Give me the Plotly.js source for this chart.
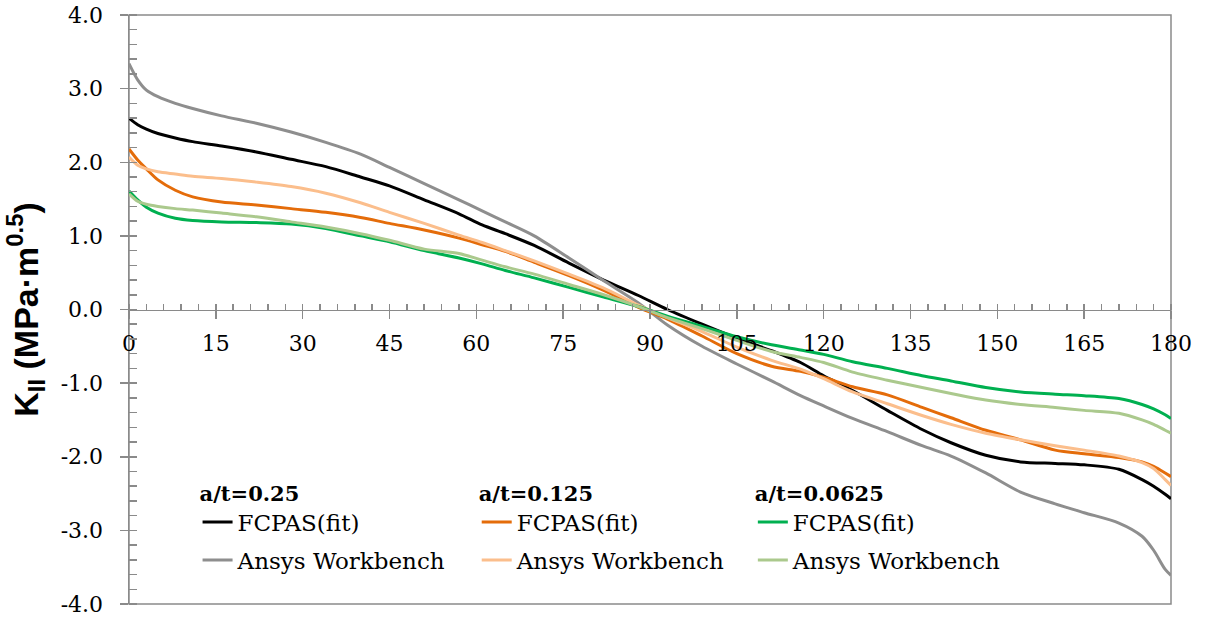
<!DOCTYPE html>
<html>
<head>
<meta charset="utf-8">
<script src="https://cdn.plot.ly/plotly-3.0.1.min.js"></script>
<style>html,body{margin:0;padding:0;background:#fff;}#chart{width:1205px;height:624px;}</style>
</head>
<body>
<div id="chart"></div>
<script>
// crack-front angle (degrees)
const angle = [0, 1.5, 3, 5, 8, 11, 16, 22, 28, 34, 40, 45, 51, 57, 61, 65, 70, 76, 82, 88, 93, 99, 105, 111, 116, 120, 125, 131, 137, 142, 148, 154, 160, 165, 171, 175, 177, 179, 180];

// a/t = 0.25
const fcpas025 = [2.60, 2.51, 2.45, 2.39, 2.33, 2.28, 2.22, 2.14, 2.04, 1.94, 1.80, 1.68, 1.49, 1.30, 1.15, 1.03, 0.87, 0.63, 0.40, 0.19, 0.00, -0.20, -0.39, -0.56, -0.72, -0.90, -1.10, -1.37, -1.63, -1.81, -1.98, -2.07, -2.09, -2.11, -2.17, -2.31, -2.40, -2.51, -2.57];
const ansys025 = [3.34, 3.12, 2.98, 2.89, 2.80, 2.73, 2.63, 2.53, 2.41, 2.27, 2.11, 1.93, 1.71, 1.49, 1.34, 1.19, 1.00, 0.70, 0.39, 0.09, -0.21, -0.50, -0.74, -0.97, -1.17, -1.31, -1.48, -1.66, -1.85, -1.99, -2.22, -2.48, -2.64, -2.76, -2.90, -3.08, -3.27, -3.53, -3.61];

// a/t = 0.125
const fcpas0125 = [2.18, 2.03, 1.91, 1.76, 1.62, 1.53, 1.46, 1.42, 1.37, 1.32, 1.25, 1.17, 1.08, 0.97, 0.88, 0.79, 0.64, 0.46, 0.26, 0.03, -0.13, -0.36, -0.60, -0.77, -0.84, -0.92, -1.05, -1.16, -1.33, -1.47, -1.64, -1.77, -1.91, -1.96, -2.01, -2.07, -2.13, -2.22, -2.27];
const ansys0125 = [2.07, 1.96, 1.91, 1.87, 1.84, 1.81, 1.78, 1.73, 1.67, 1.58, 1.45, 1.32, 1.17, 1.01, 0.91, 0.80, 0.66, 0.48, 0.29, 0.06, -0.11, -0.30, -0.51, -0.69, -0.81, -0.94, -1.12, -1.28, -1.44, -1.56, -1.68, -1.77, -1.85, -1.91, -1.99, -2.08, -2.16, -2.31, -2.39];

// a/t = 0.0625
const fcpas00625 = [1.61, 1.49, 1.39, 1.31, 1.24, 1.21, 1.19, 1.18, 1.16, 1.10, 1.00, 0.92, 0.80, 0.70, 0.62, 0.53, 0.43, 0.30, 0.17, 0.04, -0.09, -0.23, -0.37, -0.48, -0.55, -0.61, -0.71, -0.80, -0.90, -0.97, -1.06, -1.12, -1.15, -1.17, -1.21, -1.29, -1.35, -1.43, -1.48];
const ansys00625 = [1.57, 1.47, 1.43, 1.40, 1.37, 1.35, 1.31, 1.26, 1.19, 1.12, 1.03, 0.94, 0.82, 0.76, 0.67, 0.58, 0.48, 0.34, 0.20, 0.04, -0.11, -0.26, -0.42, -0.57, -0.65, -0.72, -0.85, -0.96, -1.06, -1.14, -1.23, -1.29, -1.33, -1.37, -1.41, -1.50, -1.56, -1.64, -1.68];

const groupTitles = ['a/t=0.25', 'a/t=0.125', 'a/t=0.0625'];
const seriesNames = ['FCPAS(fit)', 'Ansys Workbench'];

const xTickVals = [0, 15, 30, 45, 60, 75, 90, 105, 120, 135, 150, 165, 180];
const xTickText = ['0', '15', '30', '45', '60', '75', '90', '105', '120', '135', '150', '165', '180'];
const yTickVals = [4, 3, 2, 1, 0, -1, -2, -3, -4];
const yTickText = ['4.0', '3.0', '2.0', '1.0', '0.0', '-1.0', '-2.0', '-3.0', '-4.0'];

const serif = "DejaVu Serif";
const sans = "Liberation Sans";
const axisGray = '#8a8a8a';

function line(y, name, color, legend, group) {
  return {
    x: angle, y: y, name: name, type: 'scatter', mode: 'lines',
    line: {color: color, width: 3, shape: 'spline', smoothing: 0.8},
    legend: legend, legendgroup: group, hoverinfo: 'skip'
  };
}

const data = [
  line(fcpas025, seriesNames[0], '#000000', 'legend', 'g1'),
  line(ansys025, seriesNames[1], '#8e8e8e', 'legend', 'g2'),
  line(fcpas0125, seriesNames[0], '#e46c0a', 'legend2', 'g3'),
  line(ansys0125, seriesNames[1], '#fbbe8c', 'legend2', 'g4'),
  line(fcpas00625, seriesNames[0], '#00b050', 'legend3', 'g5'),
  line(ansys00625, seriesNames[1], '#abc98d', 'legend3', 'g6')
];

function legendCfg(title, x) {
  return {
    title: {text: '<b>' + title + '</b>', side: 'top', font: {family: serif, size: 21, color: '#000'}},
    x: x, y: 0.222, xanchor: 'left', yanchor: 'top',
    xref: 'paper', yref: 'paper',
    bgcolor: 'rgba(0,0,0,0)', borderwidth: 0,
    font: {family: serif, size: 23, color: '#000'},
    traceorder: 'grouped', tracegroupgap: 5, orientation: 'v'
  };
}

const layout = {
  width: 1205, height: 624,
  font: {family: serif, size: 22, color: '#000'},
  margin: {l: 129, r: 34, t: 15, b: 20, pad: 0},
  paper_bgcolor: '#ffffff', plot_bgcolor: '#ffffff',
  showlegend: true,
  hovermode: false,
  xaxis: {
    range: [0, 180], anchor: 'free', position: 0.5,
    tickmode: 'array', tickvals: xTickVals, ticktext: xTickText,
    ticks: 'outside', ticklen: 8, tickwidth: 1.5, tickcolor: axisGray,
    ticklabelstandoff: 6,
    minor: {dtick: 3, tick0: 0, ticks: 'inside', ticklen: 6, tickwidth: 1.5, tickcolor: axisGray, showgrid: false},
    showline: true, linecolor: axisGray, linewidth: 1.5,
    showgrid: false, zeroline: false,
    tickfont: {family: serif, size: 22, color: '#000'}
  },
  xaxis2: {
    range: [0, 180], overlaying: 'x', anchor: 'free', position: 0.5,
    tickmode: 'array', tickvals: xTickVals,
    ticks: 'inside', ticklen: 8, tickwidth: 1.5, tickcolor: axisGray,
    showticklabels: false, showline: false, showgrid: false, zeroline: false
  },
  yaxis: {
    range: [-4, 4], anchor: 'x', side: 'left',
    tickmode: 'array', tickvals: yTickVals, ticktext: yTickText,
    ticks: 'outside', ticklen: 8, tickwidth: 1.5, tickcolor: axisGray,
    ticklabelstandoff: 12,
    minor: {dtick: 0.2, tick0: 0, ticks: 'inside', ticklen: 8, tickwidth: 1.5, tickcolor: axisGray, showgrid: false},
    showline: true, linecolor: axisGray, linewidth: 1.5,
    showgrid: false, zeroline: false,
    tickfont: {family: serif, size: 22, color: '#000'},
    title: {text: '<b>K<sub>II</sub> (MPa·m<sup>0.5</sup>)</b>', standoff: 12,
            font: {family: sans, size: 34, color: '#000'}}
  },
  yaxis2: {
    range: [-4, 4], overlaying: 'y', anchor: 'x', side: 'left',
    tickmode: 'array', tickvals: yTickVals,
    ticks: 'inside', ticklen: 8, tickwidth: 1.5, tickcolor: axisGray,
    showticklabels: false, showline: false, showgrid: false, zeroline: false
  },
  shapes: [{
    type: 'rect', xref: 'paper', yref: 'paper', x0: 0, x1: 1, y0: 0, y1: 1,
    line: {color: axisGray, width: 1.5}, fillcolor: 'rgba(0,0,0,0)', layer: 'below'
  }],
  legend: legendCfg(groupTitles[0], 0.0658),
  legend2: legendCfg(groupTitles[1], 0.3337),
  legend3: legendCfg(groupTitles[2], 0.5987)
};

Plotly.newPlot('chart', data, layout, {staticPlot: true, displayModeBar: false});
</script>
</body>
</html>
